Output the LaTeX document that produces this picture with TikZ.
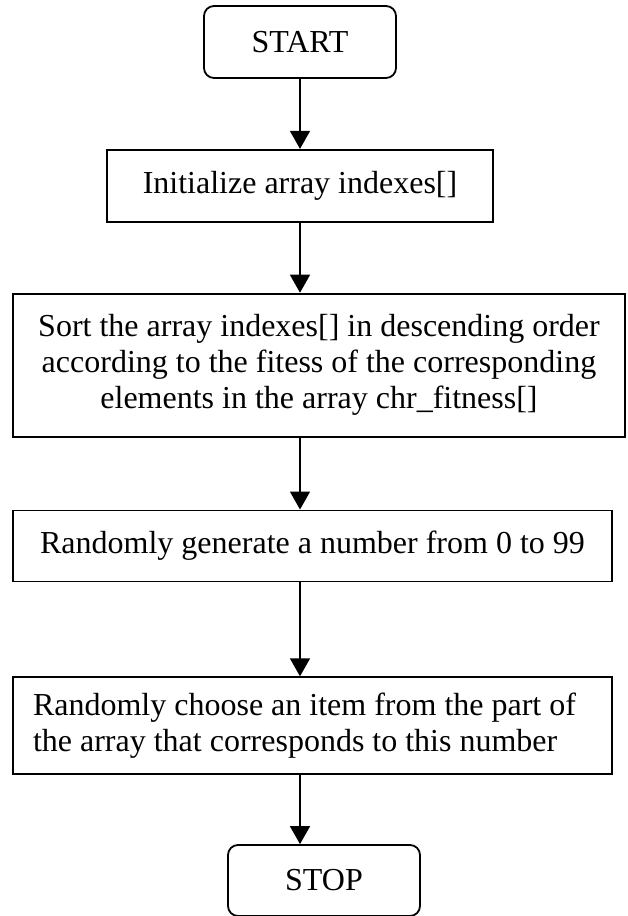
\documentclass[tikz,border=0pt]{standalone}
\usepackage{fontspec}
\setmainfont{Liberation Serif}
\usetikzlibrary{arrows.meta, positioning}
\tikzset{
    startstop/.style={rectangle, rounded corners=5pt, minimum width=96pt,
                      minimum height=36pt, text centered, draw=black,
                      font=\fontsize{16}{18}\selectfont, line width=0.9pt},
    proc/.style={rectangle, minimum height=36pt, align=center, draw=black,
                 font=\fontsize{16}{18}\selectfont, inner sep=0pt,
                 line width=0.9pt},
    procleft/.style={rectangle, minimum height=36pt, align=flush left, draw=black,
                     font=\fontsize{16}{17.75}\selectfont, inner ysep=0pt,
                     inner xsep=10pt, text width=279.5pt, line width=0.9pt},
    arr/.style={line width=0.75pt, -{Triangle[width=10pt, length=9pt]}},
}

\begin{document}
\begin{tikzpicture}[node distance=35pt]
    \useasboundingbox (0,0) rectangle (313.5pt,-458pt);
    \node[startstop] (start) at (150pt,-21pt) {START};
    \node[proc, minimum width=193pt, below=of start] (init) {Initialize array indexes[]};
    \node[proc, minimum width=306pt, minimum height=71.5pt, below=of init, xshift=9.5pt] (sort)
        {Sort the array indexes[] in descending order\\according to the fitess of the corresponding\\elements in the array chr\_fitness[]};
    \node[proc, minimum width=299.5pt, minimum height=35.5pt, below=36pt of sort, xshift=-3.25pt] (rand)
        {Randomly generate a number from 0 to 99};
    \node[procleft, minimum height=48.5pt, below=47pt of rand] (choose)
        {Randomly choose an item from the part of\\the array that corresponds to this number};
    \node[startstop, minimum height=35.5pt, below=34.5pt of choose, xshift=5.75pt] (stop) {STOP};

    \draw[arr] (start) -- (init);
    \draw[arr] (init.south -| start) -- (sort.north -| start);
    \draw[arr] (sort.south -| start) -- (rand.north -| start);
    \draw[arr] (rand.south -| start) -- (choose.north -| start);
    \draw[arr] (choose.south -| start) -- (stop.north -| start);
\end{tikzpicture}
\end{document}
